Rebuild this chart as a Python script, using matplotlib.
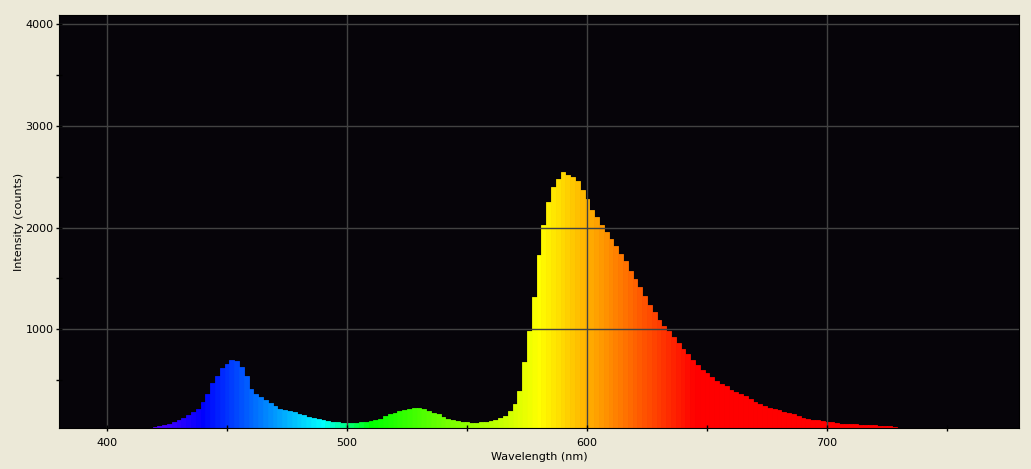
import numpy as np
import matplotlib
matplotlib.use("Agg")
import matplotlib.pyplot as plt

# spectrum, 2 nm steps from 420 to 728 nm
wavelength = np.arange(420, 730, 2)
counts = [
    42, 52, 58, 70, 87, 105, 132, 155, 189, 220,            # 420-438
    282, 365, 470, 545, 615, 660, 696, 690, 630, 540,       # 440-458
    410, 368, 333, 305, 275, 245, 218, 204, 195, 188,       # 460-478
    170, 155, 140, 124, 114, 106, 99, 92, 87, 82,           # 480-498
    80, 80, 80, 86, 91, 96, 105, 120, 145, 163,             # 500-518
    180, 196, 205, 215, 222, 222, 212, 198, 182, 163,       # 520-538
    142, 120, 107, 96, 89, 85, 82, 84, 88, 91,              # 540-558
    98, 110, 128, 150, 195, 265, 390, 680, 980, 1320,       # 560-578
    1730, 2030, 2250, 2400, 2480, 2550, 2520, 2500, 2460, 2370,  # 580-598
    2280, 2176, 2100, 2030, 1960, 1885, 1820, 1740, 1670, 1575,  # 600-618
    1495, 1415, 1330, 1240, 1170, 1095, 1035, 985, 928, 870,     # 620-638
    808, 760, 695, 650, 605, 573, 533, 493, 462, 440,       # 640-658
    405, 380, 362, 343, 315, 290, 270, 250, 230, 219,       # 660-678
    205, 192, 175, 163, 150, 133, 122, 112, 104, 98,        # 680-698
    92, 87, 83, 74, 70, 68, 68, 62, 60, 59,                 # 700-718
    58, 50, 48, 46, 44,                                     # 720-728
]
x_ticks = [400, 500, 600, 700]
y_ticks = [1000, 2000, 3000, 4000]


def wl_to_rgb(w):
    # approximate visible colour of a wavelength (nm)
    if w < 440:
        return (-(w - 440) / 60.0, 0.0, 1.0)
    if w < 490:
        return (0.0, (w - 440) / 50.0, 1.0)
    if w < 510:
        return (0.0, 1.0, -(w - 510) / 20.0)
    if w < 580:
        return ((w - 510) / 70.0, 1.0, 0.0)
    if w < 645:
        return (1.0, -(w - 645) / 65.0, 0.0)
    return (1.0, 0.0, 0.0)


colors = [wl_to_rgb(w) for w in wavelength]

plt.rcParams['font.family'] = ['DejaVu Sans']
fig = plt.figure(figsize=(10.31, 4.69), dpi=100, facecolor='#ECE9D8')
ax = fig.add_axes([59 / 1031, 41 / 469, 960 / 1031, 413 / 469])
ax.set_facecolor('#060409')

ax.bar(wavelength, counts, width=2.0, color=colors, edgecolor=colors, linewidth=0.6)

ax.set_xlim(380, 780)
ax.set_ylim(30, 4090)
ax.set_xticks(x_ticks)
ax.set_yticks(y_ticks)
ax.set_xticks([450, 550, 650, 750], minor=True)
ax.set_yticks([500, 1500, 2500, 3500], minor=True)
ax.tick_params(which='both', direction='inout', length=4, width=1, colors='black',
               labelsize=8)
ax.tick_params(axis='x', which='both', pad=5)
ax.tick_params(axis='y', which='both', pad=2)
ax.grid(True, which='major', color='#424242', linewidth=1)
ax.set_axisbelow(False)
for s in ax.spines.values():
    s.set_color('black')

ax.set_xlabel('Wavelength (nm)', fontsize=8, labelpad=3)
ax.set_ylabel('Intensity (counts)', fontsize=8, labelpad=1)

fig.savefig('out.png', dpi=100, facecolor=fig.get_facecolor())
